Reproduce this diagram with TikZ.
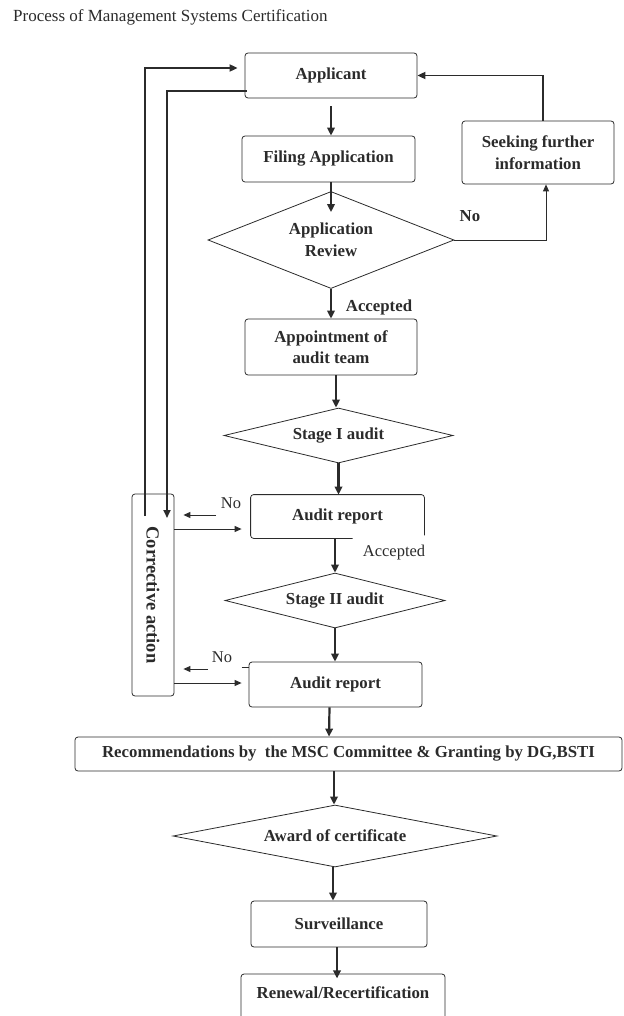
\documentclass[tikz,border=0pt]{standalone}
\usepackage{fontspec}
\usepackage{graphicx}
\setmainfont{Liberation Serif}
\usetikzlibrary{shapes.geometric,arrows.meta,calc}
\definecolor{ink}{HTML}{2B2B2B}
\begin{document}
\begin{tikzpicture}[x=1pt,y=-1pt,
  every node/.style={text=ink},
  box/.style={draw=ink, line width=0.8pt, rounded corners=3pt, inner sep=0pt, align=center,
              font=\bfseries\fontsize{16.8}{21.5}\selectfont},
  dia/.style={diamond, draw=ink, line width=0.8pt, inner sep=0pt, align=center,
              font=\bfseries\fontsize{16.8}{21.5}\selectfont},
  flow/.style={draw=ink, line width=2.2pt, -{Triangle[length=8pt,width=7.5pt]}},
  flowb/.style={draw=ink, line width=1.8pt, -{Triangle[length=8pt,width=7pt]}},
  thinarr/.style={draw=ink, line width=1pt, -{Triangle[length=7pt,width=6pt]}},
  lbl/.style={inner sep=0pt, font=\fontsize{16.5}{20}\selectfont},
  lblb/.style={inner sep=0pt, font=\bfseries\fontsize{16.8}{20}\selectfont},
  boxline/.style={draw=ink, line width=0.8pt, rounded corners=3pt}
]
\useasboundingbox (0,0) rectangle (623,1016);
\clip (0,0) rectangle (623,1016);

\node[anchor=base west, inner sep=0pt, font=\fontsize{17}{20}\selectfont] (title) at (13,22) {Process of Management Systems Certification};

\node[box, minimum width=172pt, minimum height=45pt] (app) at (331,75.5) {Applicant};
\node[box, minimum width=173pt, minimum height=46pt] (fil) at (328.5,159) {Filing Application};
\node[box, minimum width=152pt, minimum height=63pt] (seek) at (538,152.5) {Seeking further\\information};
\node[dia, minimum width=246pt, minimum height=97pt, aspect=2.5] (rev) at (331,240) {Application\\Review};
\node[box, minimum width=172pt, minimum height=56pt] (appt) at (331,347) {Appointment of\\audit team};
\node[dia, minimum width=229pt, minimum height=55pt, aspect=4.2] (s1) at (338.5,435.5) {Stage I audit};
\node[box, draw=none, minimum width=173pt, minimum height=43pt] (ar1) at (337.5,516.5) {Audit report};
\draw[boxline] ($(ar1.south east)+(0,-3)$) -- (ar1.north east) -- (ar1.north west) -- (ar1.south west) -- ($(ar1.south)+(15,0)$);
\node[dia, minimum width=220pt, minimum height=55pt, aspect=4] (s2) at (335,600.5) {Stage II audit};
\node[box, minimum width=173pt, minimum height=45pt] (ar2) at (335.5,684.5) {Audit report};
\node[box, minimum width=547pt, minimum height=34pt] (rec) at (348.5,754) {Recommendations by\ \ the MSC Committee \& Granting by DG,BSTI};
\node[dia, minimum width=324pt, minimum height=62pt, aspect=5.2] (award) at (335,836) {Award of certificate};
\node[box, minimum width=176pt, minimum height=46pt] (surv) at (339,924) {Surveillance};
\node[lblb] (ren) at (343,993) {Renewal/Recertification};
\draw[boxline] ($(ren.center)+(-102,50)$) -- ($(ren.center)+(-102,-19)$) -- ($(ren.center)+(102,-19)$) -- ($(ren.center)+(102,50)$);
\node[box, minimum width=42pt, minimum height=202pt, font=\bfseries\fontsize{18.5}{20}\selectfont] (cor) at (153,595) {\rotatebox{-90}{Corrective action}};

% labels
\node[lblb] (acc1) at (379,307) {Accepted};
\node[lblb] (no1) at (470,216) {No};
\node[lbl] (acc2) at (394,553) {Accepted};
\node[lbl] (no2) at (231,503) {No};
\node[lbl] (no3) at (222,657) {No};

% main flow
\draw[flow] ($(app.south)+(0,8)$) -- (app.south |- fil.north);
\draw[flow] (rev.north |- fil.south) -- ($(rev.north)+(0,21)$);
\draw[flow] (rev.south) -- (rev.south |- appt.north);
\draw[flow] ($(s1.north |- appt.south)+(-2.5,0)$) -- ($(s1.north)+(-2.5,0)$);
\draw[flow] (s1.south) -- (s1.south |- ar1.north);
\draw[flow] (s2.north |- ar1.south) -- (s2.north);
\draw[flow] (s2.south) -- (s2.south |- ar2.north);
\draw[flow] ($(ar2.south)+(-6,0)$) -- ($(rec.north)+(-19.5,0)$);
\draw[flow] ($(award.north |- rec.south)+(-1,0)$) -- ($(award.north)+(-1,0)$);
\draw[flow] ($(award.south)+(-2,0)$) -- ($(award.south |- surv.north)+(-2,0)$);
\draw[flow] ($(surv.south)+(-2,0)$) -- ($(surv.south)+(-2,31)$);

% seeking loop
\draw[flowb] ($(seek.north)+(5,0)$) |- (app.east);
\draw[thinarr] (rev.east) -| ($(seek.south)+(8,0)$);

% left loops
\coordinate (inA) at ($(app.south west)+(2,-7)$);
\coordinate (inEnd) at (167,518);
\draw[flowb] (inA) -| (inEnd);
\coordinate (outS) at (145,516);
\draw[flowb] (outS) |- ($(app.west)+(-7,-7.5)$);

% corrective action arrows
\coordinate (r1) at ($(ar1.west)+(-9,12.5)$);
\draw[thinarr] (cor.east |- r1) -- (r1);
\coordinate (r2) at ($(ar2.west)+(-7,-1.5)$);
\draw[thinarr] (cor.east |- r2) -- (r2);
\coordinate (n1s) at (216,515);
\draw[thinarr] (n1s) -- ($(cor.east |- n1s)+(9,0)$);
\coordinate (n2s) at (208,669);
\draw[thinarr] (n2s) -- ($(cor.east |- n2s)+(9,0)$);
\draw[draw=ink, line width=0.8pt] ($(ar2.north west)+(-7,6)$) -- ($(ar2.north west)+(0,6)$);
\end{tikzpicture}
\end{document}
